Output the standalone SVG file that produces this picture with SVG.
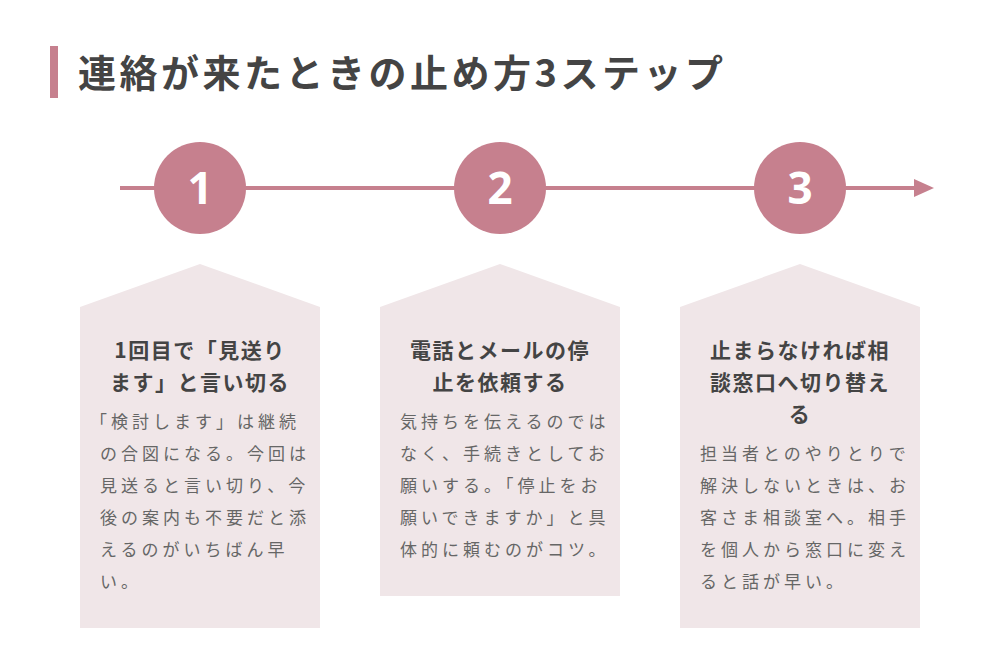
<svg xmlns="http://www.w3.org/2000/svg" width="1000" height="672" viewBox="0 0 1000 672">
<style>
.t{font-family:"Noto Sans CJK JP","Noto Sans",sans-serif;font-weight:bold;fill:#444}
.h{font-size:21px;text-anchor:middle;letter-spacing:1.5px}
.b{font-family:"Noto Sans CJK JP","Noto Sans",sans-serif;font-size:17px;fill:#666;letter-spacing:4px}
.box{fill:#f0e6e8}
.c{fill:#c6808e}
.n{font-family:"Noto Sans","Noto Sans CJK JP",sans-serif;font-weight:bold;font-size:44px;fill:#fff;text-anchor:middle}
</style>
<rect width="1000" height="672" fill="#fff"/>
<rect x="50" y="46" width="8" height="52" fill="#c6808e"/>
<text x="78" y="87" class="t" font-size="38" letter-spacing="3.5">連絡が来たときの止め方3ステップ</text>
<g id="connectors">
<line x1="120" y1="188" x2="918" y2="188" stroke="#c6808e" stroke-width="4"/>
<polygon points="934,188 914,179 914,197" fill="#c6808e"/>
</g>
<g id="step1">
<circle cx="200" cy="188" r="46" class="c"/><text x="200" y="204" class="n">1</text>
<polygon class="box" points="200,264 320,307 320,628 80,628 80,307"/>
<text class="t h" x="200" y="358">1回目で「見送り</text>
<text class="t h" x="200" y="390">ます」と言い切る</text>
<text class="b" x="90" y="428">「検討します」は継続</text>
<text class="b" x="100" y="460">の合図になる。今回は</text>
<text class="b" x="100" y="492">見送ると言い切り、今</text>
<text class="b" x="100" y="524">後の案内も不要だと添</text>
<text class="b" x="100" y="556">えるのがいちばん早</text>
<text class="b" x="100" y="588">い。</text>
</g>
<g id="step2">
<circle cx="500" cy="188" r="46" class="c"/><text x="500" y="204" class="n">2</text>
<polygon class="box" points="500,264 620,307 620,596 380,596 380,307"/>
<text class="t h" x="500" y="358">電話とメールの停</text>
<text class="t h" x="500" y="390">止を依頼する</text>
<text class="b" x="400" y="428">気持ちを伝えるのでは</text>
<text class="b" x="400" y="460">なく、手続きとしてお</text>
<text class="b" x="400" y="492">願いする。「停止をお</text>
<text class="b" x="400" y="524">願いできますか」と具</text>
<text class="b" x="400" y="556">体的に頼むのがコツ。</text>
</g>
<g id="step3">
<circle cx="800" cy="188" r="46" class="c"/><text x="800" y="204" class="n">3</text>
<polygon class="box" points="800,264 920,307 920,628 680,628 680,307"/>
<text class="t h" x="800" y="358">止まらなければ相</text>
<text class="t h" x="800" y="390">談窓口へ切り替え</text>
<text class="t h" x="800" y="422">る</text>
<text class="b" x="700" y="460">担当者とのやりとりで</text>
<text class="b" x="700" y="492">解決しないときは、お</text>
<text class="b" x="700" y="524">客さま相談室へ。相手</text>
<text class="b" x="700" y="556">を個人から窓口に変え</text>
<text class="b" x="700" y="588">ると話が早い。</text>
</g>
</svg>
